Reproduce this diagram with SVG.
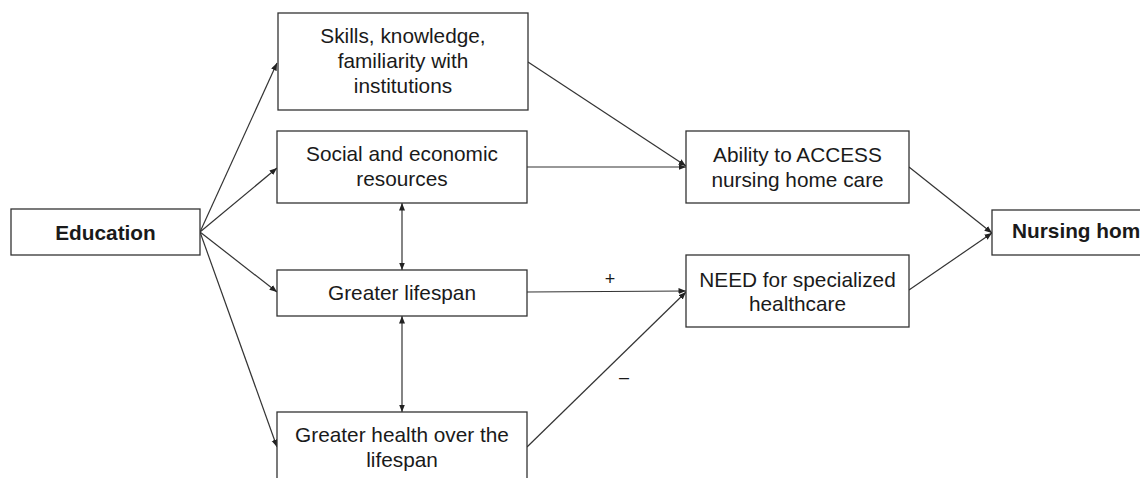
<svg xmlns="http://www.w3.org/2000/svg" width="1140" height="478" viewBox="0 0 1140 478">
  <style>
    .box { fill: #ffffff; stroke: #333333; stroke-width: 1.3; }
    .lbl { font-family: "Liberation Sans", Arial, sans-serif; font-size: 20.8px; fill: #1a1a1a; text-anchor: middle; }
    .bold { font-weight: bold; }
    .edge { fill: none; stroke: #333333; stroke-width: 1.2; marker-end: url(#arrow); }
    .both { marker-start: url(#arrow); }
    .sign { font-family: "Liberation Sans", Arial, sans-serif; font-size: 18px; fill: #1a1a1a; text-anchor: middle; }
  </style>
  <defs>
    <marker id="arrow" markerUnits="userSpaceOnUse" markerWidth="8" markerHeight="7" refX="7.5" refY="3" orient="auto-start-reverse">
      <path d="M0,0 L7.5,3 L0,6 z" fill="#222222"/>
    </marker>
  </defs>
  <rect width="1140" height="478" fill="#ffffff"/>

  <g id="connectors">
    <path class="edge" d="M200,232 L277,63"/>
    <path class="edge" d="M200,232 L277,168"/>
    <path class="edge" d="M200,232 L277,292"/>
    <path class="edge" d="M200,232 L277,447"/>
    <path class="edge" d="M528,62 L686,166"/>
    <path class="edge" d="M527,167 L686,167"/>
    <path class="edge" d="M527,292 L686,291"/>
    <path class="edge" d="M527,447 L686,292"/>
    <path class="edge" d="M909,167 L992,233"/>
    <path class="edge" d="M909,290 L992,233"/>
    <path class="edge both" d="M402,203 L402,270"/>
    <path class="edge both" d="M402,316 L402,412"/>
    <text class="sign" x="610" y="285">+</text>
    <text class="sign" x="624" y="383">–</text>
  </g>

  <g id="education">
    <rect class="box" x="11" y="209" width="189" height="46"/>
    <text class="lbl bold" x="105.5" y="240">Education</text>
  </g>

  <g id="skills">
    <rect class="box" x="278" y="13" width="250" height="97"/>
    <text class="lbl" x="403" y="43">Skills, knowledge,</text>
    <text class="lbl" x="403" y="68">familiarity with</text>
    <text class="lbl" x="403" y="93">institutions</text>
  </g>

  <g id="resources">
    <rect class="box" x="277" y="131" width="250" height="72"/>
    <text class="lbl" x="402" y="161">Social and economic</text>
    <text class="lbl" x="402" y="186">resources</text>
  </g>

  <g id="lifespan">
    <rect class="box" x="277" y="270" width="250" height="46"/>
    <text class="lbl" x="402" y="299.5">Greater lifespan</text>
  </g>

  <g id="health">
    <rect class="box" x="277" y="412" width="250" height="90"/>
    <text class="lbl" x="402" y="442">Greater health over the</text>
    <text class="lbl" x="402" y="467">lifespan</text>
  </g>

  <g id="access">
    <rect class="box" x="686" y="131" width="223" height="72"/>
    <text class="lbl" x="797.5" y="162">Ability to ACCESS</text>
    <text class="lbl" x="797.5" y="187">nursing home care</text>
  </g>

  <g id="need">
    <rect class="box" x="686" y="255" width="223" height="72"/>
    <text class="lbl" x="797.5" y="287">NEED for specialized</text>
    <text class="lbl" x="797.5" y="311">healthcare</text>
  </g>

  <g id="nursing-home">
    <rect class="box" x="992" y="210" width="200" height="45"/>
    <text class="lbl bold" x="1012" y="238" style="text-anchor: start">Nursing home</text>
  </g>
</svg>
